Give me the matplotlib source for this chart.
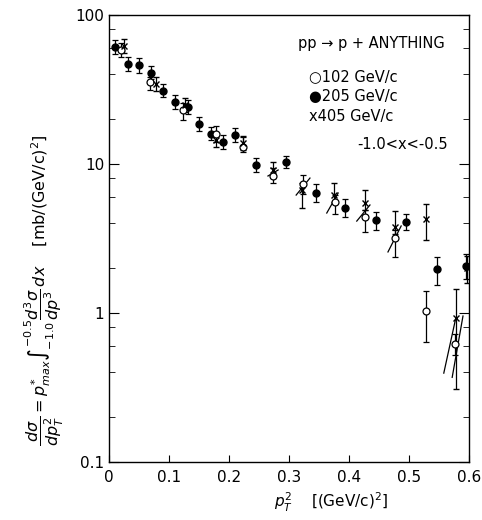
import numpy as np
import matplotlib
matplotlib.use("Agg")
import matplotlib.pyplot as plt
from matplotlib.ticker import LogLocator, NullFormatter, FixedLocator

plt.rcParams['font.family'] = ['DejaVu Sans']
plt.rcParams['mathtext.fontset'] = 'dejavusans'

# 205 GeV/c (filled circles)
x205 = [0.010, 0.032, 0.050, 0.070, 0.090, 0.110, 0.132, 0.150, 0.170, 0.190,
        0.210, 0.245, 0.295, 0.345, 0.393, 0.445, 0.495, 0.547, 0.595]
y205 = [61, 47, 46, 41, 31, 26, 24, 18.5, 16, 14.1,
        15.7, 9.9, 10.3, 6.4, 5.1, 4.2, 4.1, 1.97, 2.07]
lo205 = [6, 5, 5, 4, 3, 2.7, 2.5, 1.9, 1.6, 1.4, 1.6, 1.0, 0.9, 0.83, 0.66, 0.6, 0.5, 0.43, 0.38]
hi205 = [7, 5.5, 5.5, 4.5, 3.5, 3, 2.7, 2.1, 1.8, 1.6, 1.8, 1.1, 1.0, 0.95, 0.76, 0.6, 0.55, 0.40, 0.42]

# 102 GeV/c (open circles)
x102 = [0.020, 0.068, 0.123, 0.178, 0.223, 0.273, 0.323, 0.377, 0.427, 0.477, 0.528, 0.577]
y102 = [58, 35.5, 23, 15.9, 13, 8.3, 7.3, 5.6, 4.4, 3.2, 1.03, 0.62]
lo102 = [6, 4.1, 3.3, 1.9, 1.0, 0.85, 1.0, 0.95, 0.91, 0.81, 0.39, 0.1]
hi102 = [6.5, 2.9, 2.6, 2.1, 2.2, 1.1, 1.2, 0.6, 0.5, 0.4, 0.37, 0.1]

# 405 GeV/c (crosses)
x405 = [0.025, 0.078, 0.127, 0.178, 0.223, 0.273, 0.322, 0.375, 0.427, 0.477, 0.528, 0.578, 0.597]
y405 = [62, 34.5, 25, 14.5, 13.8, 9.1, 6.7, 6.2, 5.5, 3.8, 4.3, 0.92, 2.0]
lo405 = [6.5, 3.5, 2.5, 1.5, 1.4, 1.0, 1.6, 0.6, 0.56, 0.39, 1.2, 0.61, 0.4]
hi405 = [7, 4, 2.8, 1.6, 1.6, 1.2, 0.76, 1.3, 1.2, 1.06, 1.1, 0.52, 0.4]

# slanted segments drawn through some 102/405 pairs
seg_x0 = [0.265, 0.312, 0.363, 0.413, 0.465, 0.558, 0.572]
seg_y0 = [8.31, 6.19, 4.69, 4.14, 2.57, 0.395, 0.37]
seg_x1 = [0.282, 0.335, 0.382, 0.435, 0.487, 0.578, 0.590]
seg_y1 = [9.12, 8.05, 6.39, 5.31, 3.84, 0.925, 0.955]

fig = plt.figure(figsize=(4.82, 5.20), dpi=100)
ax = fig.add_axes([0.226, 0.1115, 0.747, 0.8596])

ekw = dict(ecolor='black', elinewidth=0.9, capsize=2.5, capthick=0.9, linestyle='none')
ax.errorbar(x205, y205, yerr=[lo205, hi205], marker='o', ms=5,
            mfc='black', mec='black', **ekw)
ax.errorbar(x102, y102, yerr=[lo102, hi102], marker='o', ms=5,
            mfc='white', mec='black', mew=0.9, **ekw)
ax.errorbar(x405, y405, yerr=[lo405, hi405], marker='x', ms=4.5,
            mec='black', mew=1.0, **ekw)

for a, b, c, d in zip(seg_x0, seg_y0, seg_x1, seg_y1):
    ax.plot([a, c], [b, d], color='black', lw=0.9)

ax.set_yscale('log')
ax.set_xlim(0, 0.6)
ax.set_ylim(0.1, 100)
ax.xaxis.set_major_locator(FixedLocator([0, 0.1, 0.2, 0.3, 0.4, 0.5, 0.6]))
ax.set_xticklabels(['0', '0.1', '0.2', '0.3', '0.4', '0.5', '0.6'])
ax.yaxis.set_major_locator(FixedLocator([0.1, 1, 10, 100]))
ax.set_yticklabels(['0.1', '1', '10', '100'])
ax.yaxis.set_minor_locator(LogLocator(base=10, subs=[2, 4, 6, 8]))
ax.yaxis.set_minor_formatter(NullFormatter())
ax.tick_params(axis='both', which='both', direction='in', right=True, top=False,
               labelsize=11)
ax.tick_params(axis='y', which='major', length=7)
ax.tick_params(axis='y', which='minor', length=4)
ax.tick_params(axis='x', which='major', length=5, pad=6)
for s in ax.spines.values():
    s.set_linewidth(1.0)

ax.text(0.73, 0.937, 'pp → p + ANYTHING', transform=ax.transAxes,
        ha='center', va='center', fontsize=10.5)
ax.text(0.555, 0.862, '○102 GeV/c', transform=ax.transAxes, ha='left', va='center', fontsize=10.5)
ax.text(0.555, 0.818, '●205 GeV/c', transform=ax.transAxes, ha='left', va='center', fontsize=10.5)
ax.text(0.555, 0.773, 'x405 GeV/c', transform=ax.transAxes, ha='left', va='center', fontsize=10.5)
ax.text(0.94, 0.711, '-1.0<x<-0.5', transform=ax.transAxes, ha='right', va='center', fontsize=10.5)

fig.text(0.687, 0.033, r'$p_T^2$    [(GeV/c)$^2$]', ha='center', va='center', fontsize=11)
fig.text(0.093, 0.442,
         r'$\dfrac{d\sigma}{dp_T^2} = p^{*}_{max}\int_{-1.0}^{-0.5}\dfrac{d^3\sigma}{dp^3}\,dx$'
         r'    [mb/(GeV/c)$^2$]',
         rotation=90, ha='center', va='center', fontsize=11.5)

fig.savefig('out.png', dpi=100)
